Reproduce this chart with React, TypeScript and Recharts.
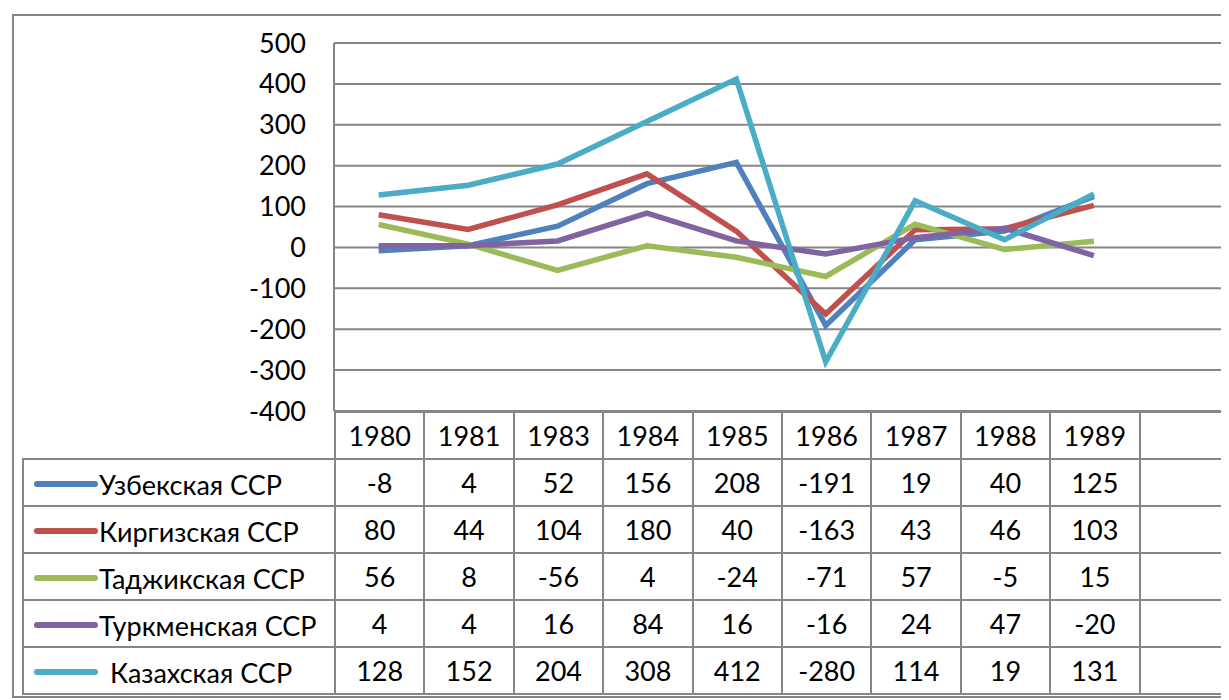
import React from 'react'
import { LineChart, Line, XAxis, YAxis, CartesianGrid } from 'recharts'

const years = ['1980', '1981', '1983', '1984', '1985', '1986', '1987', '1988', '1989']

const uzbek = [-8, 4, 52, 156, 208, -191, 19, 40, 125]
const kyrgyz = [80, 44, 104, 180, 40, -163, 43, 46, 103]
const tajik = [56, 8, -56, 4, -24, -71, 57, -5, 15]
const turkmen = [4, 4, 16, 84, 16, -16, 24, 47, -20]
const kazakh = [128, 152, 204, 308, 412, -280, 114, 19, 131]

const yTicks = [-400, -300, -200, -100, 0, 100, 200, 300, 400, 500]

const series = [
  { key: 'uz', name: 'Узбекская ССР', values: uzbek, color: '#4F81BD', gap: false },
  { key: 'kg', name: 'Киргизская ССР', values: kyrgyz, color: '#C0504D', gap: false },
  { key: 'tj', name: 'Таджикская ССР', values: tajik, color: '#9BBB59', gap: false },
  { key: 'tm', name: 'Туркменская ССР', values: turkmen, color: '#8064A2', gap: false },
  { key: 'kz', name: 'Казахская ССР', values: kazakh, color: '#4BACC6', gap: true },
]

// one extra empty category on the right, as in the source sheet
const categories = [...years, '']

const data = categories.map((year, i) => {
  const row: Record<string, string | number | null> = { year }
  series.forEach((s) => {
    row[s.key] = i < s.values.length ? s.values[i] : null
  })
  return row
})

const FONT = 'Lato, "Open Sans", sans-serif'
const GRID = '#868686'
const COL_W = 89.4
const LEGEND_W = 312
const ROW_H = 47
const FS = 27

const cell: React.CSSProperties = {
  border: `2px solid ${GRID}`,
  textAlign: 'center',
  verticalAlign: 'middle',
  padding: 0,
  height: ROW_H,
  boxSizing: 'border-box',
}

export default function App() {
  return (
    <div style={{ position: 'relative', width: 1221, height: 692, fontFamily: FONT, overflow: 'hidden' }}>
      <div
        style={{
          position: 'absolute',
          left: 4,
          top: 6,
          width: 1240,
          height: 684,
          border: `2px solid ${GRID}`,
          boxSizing: 'border-box',
        }}
      />
      <div style={{ position: 'absolute', left: 0, top: 0 }}>
        <LineChart width={1221} height={430} data={data} margin={{ top: 35, right: 1, bottom: 27, left: 0 }}>
          <CartesianGrid vertical={false} stroke={GRID} strokeWidth={2} />
          <XAxis dataKey="year" scale="band" hide />
          <YAxis
            width={326}
            domain={[-400, 500]}
            ticks={yTicks}
            interval={0}
            tickLine={false}
            tickSize={0}
            tickMargin={28}
            axisLine={{ stroke: GRID, strokeWidth: 2 }}
            tick={{ fontSize: FS, fill: '#000', fontFamily: FONT }}
          />
          {series.map((s) => (
            <Line
              key={s.key}
              type="linear"
              dataKey={s.key}
              stroke={s.color}
              strokeWidth={5.5}
              dot={false}
              activeDot={false}
              isAnimationActive={false}
            />
          ))}
        </LineChart>
      </div>
      <table
        style={{
          position: 'absolute',
          left: 14,
          top: 403,
          borderCollapse: 'collapse',
          tableLayout: 'fixed',
          width: LEGEND_W + COL_W * categories.length,
          fontSize: FS,
          color: '#000',
          fontFamily: FONT,
        }}
      >
        <colgroup>
          <col style={{ width: LEGEND_W }} />
          {categories.map((c, i) => (
            <col key={i} style={{ width: COL_W }} />
          ))}
        </colgroup>
        <tbody>
          <tr>
            <td style={{ ...cell, border: 'none' }} />
            {categories.map((c, i) => (
              <td key={i} style={cell}>
                {c}
              </td>
            ))}
          </tr>
          {series.map((s) => (
            <tr key={s.key}>
              <td style={{ ...cell, textAlign: 'left', paddingLeft: 10, whiteSpace: 'nowrap' }}>
                <span
                  style={{
                    display: 'inline-block',
                    width: 64,
                    height: 6,
                    borderRadius: 3,
                    background: s.color,
                    verticalAlign: 'middle',
                    marginRight: s.gap ? 12 : 1,
                  }}
                />
                <span style={{ verticalAlign: 'middle' }}>{s.name}</span>
              </td>
              {categories.map((c, i) => (
                <td key={i} style={cell}>
                  {i < s.values.length ? s.values[i] : ''}
                </td>
              ))}
            </tr>
          ))}
        </tbody>
      </table>
    </div>
  )
}
